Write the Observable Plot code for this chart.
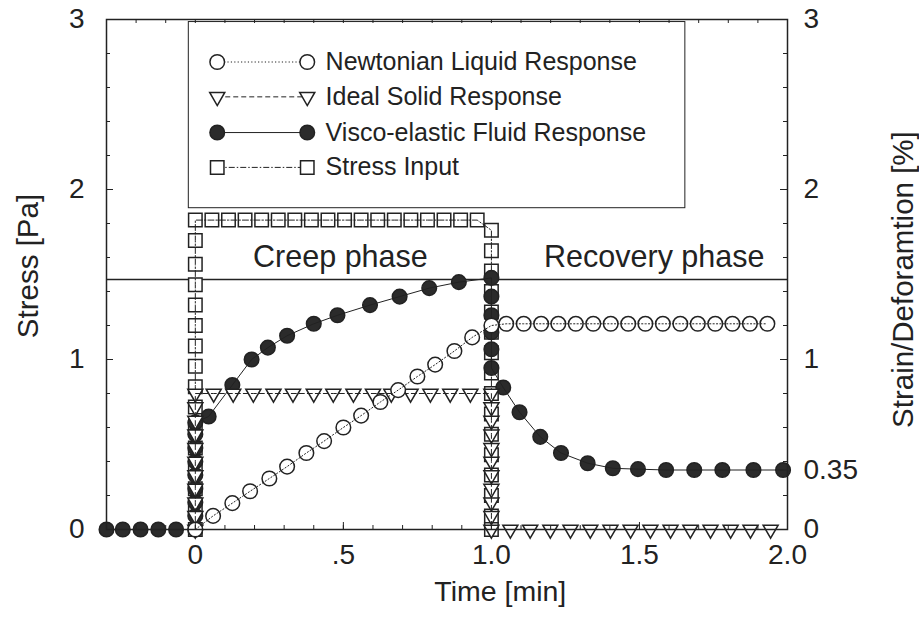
<!DOCTYPE html>
<html>
<head>
<meta charset="utf-8">
<script src="https://cdn.jsdelivr.net/npm/d3@7"></script>
<script src="https://cdn.jsdelivr.net/npm/@observablehq/plot@0.6"></script>
<style>
  html, body { margin: 0; padding: 0; background: #fff; }
  #chart { width: 919px; height: 621px; }
</style>
</head>
<body>
<div id="chart"></div>
<script>
// ---------------- DATA ----------------
// Stress input (open squares)
const stressX = [0,0,0,0,0,0,0,0,0,0,0,0,0,0,0,0,
  0.056,0.112,0.168,0.224,0.28,0.336,0.392,0.448,0.504,0.56,0.616,0.672,0.728,0.784,0.84,0.896,0.952,
  1,1,1,1,1,1,1,1,1,1,1,1,1,1,1,1];
const stressY = [0,0.12,0.24,0.36,0.48,0.6,0.72,0.84,0.96,1.08,1.2,1.32,1.44,1.56,1.7,1.82,
  1.82,1.82,1.82,1.82,1.82,1.82,1.82,1.82,1.82,1.82,1.82,1.82,1.82,1.82,1.82,1.82,1.82,
  1.76,1.64,1.52,1.4,1.28,1.16,1.04,0.92,0.8,0.68,0.56,0.44,0.32,0.2,0.08,0];

// Visco-elastic fluid response (filled circles)
const viscoX = [-0.3,-0.245,-0.185,-0.125,-0.065,0,0,0,0,0,0,0,0,0,
  0.045,0.125,0.19,0.245,0.31,0.4,0.48,0.59,0.69,0.79,0.89,1,
  1,1,1,1,1,
  1.04,1.095,1.165,1.235,1.325,1.41,1.495,1.59,1.685,1.78,1.885,1.985];
const viscoY = [0,0,0,0,0,0,0.08,0.16,0.24,0.32,0.4,0.48,0.56,0.63,
  0.665,0.85,1.0,1.07,1.14,1.21,1.26,1.32,1.37,1.42,1.455,1.48,
  1.37,1.26,1.16,1.06,0.95,
  0.835,0.69,0.545,0.45,0.39,0.36,0.355,0.35,0.35,0.35,0.35,0.35];

// Ideal solid response (open down-triangles)
const solidX = [0,0,0,0,0,0,0,0,0,0,0,
  0.062,0.128,0.196,0.264,0.33,0.4,0.466,0.534,0.6,0.662,0.727,0.794,0.861,0.929,
  1,1,1,1,1,1,1,1,1,1,1,
  1.064,1.131,1.199,1.267,1.334,1.402,1.47,1.537,1.605,1.672,1.74,1.808,1.875,1.943];
const solidY = [0,0.08,0.16,0.24,0.32,0.4,0.48,0.56,0.64,0.72,0.8,
  0.8,0.8,0.8,0.8,0.8,0.8,0.8,0.8,0.8,0.8,0.8,0.8,0.8,0.8,
  0.8,0.72,0.64,0.56,0.48,0.4,0.32,0.24,0.16,0.08,0,
  0,0,0,0,0,0,0,0,0,0,0,0,0,0];

// Newtonian liquid response (open circles)
const newtonX = [0,0.06,0.125,0.185,0.25,0.31,0.375,0.435,0.5,0.56,0.625,0.685,0.75,0.81,0.875,0.935,1,
  1.05,1.109,1.168,1.226,1.285,1.344,1.403,1.462,1.52,1.579,1.638,1.697,1.756,1.814,1.873,1.932];
const newtonY = [0,0.08,0.155,0.225,0.3,0.37,0.45,0.52,0.6,0.67,0.75,0.82,0.9,0.97,1.05,1.13,1.2,
  1.21,1.21,1.21,1.21,1.21,1.21,1.21,1.21,1.21,1.21,1.21,1.21,1.21,1.21,1.21,1.21];

const phaseLine = [1.47];
const phaseLabels = ["Creep phase", "Recovery phase"];
const phaseLabelX = [0.49, 1.55];
const phaseLabelY = [1.6, 1.6];

const legendLabels = ["Newtonian Liquid Response", "Ideal Solid Response", "Visco-elastic Fluid Response", "Stress Input"];

const xTicks = [0, 0.5, 1, 1.5, 2];
const xTickLabels = ["0", ".5", "1.0", "1.5", "2.0"];
const yLeftTicks = [0, 1, 2, 3];
const yLeftLabels = ["0", "1", "2", "3"];
const yRightTicks = [0, 0.35, 1, 2, 3];
const yRightLabels = ["0", "0.35", "1", "2", "3"];

// ---------------- STYLE / LAYOUT ----------------
const ink = "#222";
const font = '"Liberation Sans", Arial, Helvetica, sans-serif';
const W = 919, H = 621;
const M = {left: 106, right: 132, top: 19, bottom: 92};
const xDomain = [-0.3, 2.0], yDomain = [0, 3];
// pixel -> data-unit conversion for tick lengths
const pxX = (xDomain[1] - xDomain[0]) / (W - M.left - M.right);
const pxY = (yDomain[1] - yDomain[0]) / (H - M.top - M.bottom);

// downward-pointing triangle symbol
const triangleDown = {
  draw(context, size) {
    const y = -Math.sqrt(size / (Math.sqrt(3) * 3));
    context.moveTo(0, -2 * y);
    context.lineTo(-Math.sqrt(3) * y, y);
    context.lineTo(Math.sqrt(3) * y, y);
    context.closePath();
  }
};

const rows = (xs, ys) => xs.map((x, i) => ({x, y: ys[i]}));
const styles = {
  newton: {symbol: "circle", r: 7.3, fill: "white", dash: "1.2,2.2"},
  solid:  {symbol: triangleDown, r: 5.6, fill: "white", dash: "5,3"},
  visco:  {symbol: "circle", r: 7.3, fill: "#2b2b2b", dash: null},
  stress: {symbol: "square", r: 7.6, fill: "white", dash: "6,2,1.5,2"}
};
const seriesData = {
  stress: rows(stressX, stressY),
  visco: rows(viscoX, viscoY),
  solid: rows(solidX, solidY),
  newton: rows(newtonX, newtonY)
};

function seriesMarks(key) {
  const s = styles[key];
  return [
    Plot.dot(seriesData[key], {x: "x", y: "y", symbol: () => s.symbol, r: s.r, fill: s.fill,
      stroke: ink, strokeWidth: 1.5}),
    Plot.line(seriesData[key], {x: "x", y: "y", stroke: ink, strokeWidth: 1,
      strokeDasharray: s.dash})
  ];
}

// legend layout (in data units)
const lg = {x1: -0.022, x2: 1.655, y1: 1.89, y2: 2.985,
  rowY: [2.75, 2.545, 2.335, 2.13], m1: 0.074, m2: 0.378, tx: 0.44};
const legendKeys = ["newton", "solid", "visco", "stress"];

function legendMarks() {
  const out = [Plot.rect([0], {x1: () => lg.x1, x2: () => lg.x2, y1: () => lg.y1, y2: () => lg.y2,
    fill: "white", stroke: ink, strokeWidth: 1})];
  legendKeys.forEach((k, i) => {
    const s = styles[k];
    const y = lg.rowY[i];
    out.push(Plot.link([0], {x1: () => lg.m1, x2: () => lg.m2, y1: () => y, y2: () => y, stroke: ink,
      strokeWidth: 1, strokeDasharray: s.dash}));
    out.push(Plot.dot([lg.m1, lg.m2], {x: d => d, y: () => y, symbol: () => s.symbol, r: s.r,
      fill: s.fill, stroke: ink, strokeWidth: 1.5}));
    out.push(Plot.text([legendLabels[i]], {x: () => lg.tx, y: () => y, text: d => d,
      textAnchor: "start", fontSize: 25, fill: ink, fontFamily: font}));
  });
  return out;
}

const xMinor = d3.range(-3, 21).map(d => d / 10);
const yMinor = d3.range(0, 16).map(d => d / 5);
const lab = (ticks, labels) => (d, i) => labels[i];

function yTicks(values, side, len) {
  const x0 = side === "left" ? xDomain[0] : xDomain[1];
  const x1 = side === "left" ? x0 + len * pxX : x0 - len * pxX;
  return Plot.ruleY(values, {y: d => d, x1: () => x0, x2: () => x1, stroke: ink, strokeWidth: 1});
}
function xTicksMark(values, side, len) {
  const y0 = side === "bottom" ? yDomain[0] : yDomain[1];
  const y1 = side === "bottom" ? y0 + len * pxY : y0 - len * pxY;
  return Plot.ruleX(values, {x: d => d, y1: () => y0, y2: () => y1, stroke: ink, strokeWidth: 1});
}

const chart = Plot.plot({
  width: W, height: H,
  marginLeft: M.left, marginRight: M.right, marginTop: M.top, marginBottom: M.bottom,
  style: {fontFamily: font, background: "white", overflow: "visible"},
  x: {domain: xDomain, axis: null},
  y: {domain: yDomain, axis: null},
  marks: [
    Plot.ruleY(phaseLine, {stroke: ink, strokeWidth: 1.5}),
    ...seriesMarks("stress"),
    ...seriesMarks("visco"),
    ...seriesMarks("solid"),
    ...seriesMarks("newton"),
    Plot.text(phaseLabels, {x: (d, i) => phaseLabelX[i], y: (d, i) => phaseLabelY[i],
      text: d => d, fontSize: 30.5, fill: ink, fontFamily: font}),
    ...legendMarks(),
    Plot.frame({stroke: ink, strokeWidth: 1.5}),
    yTicks(yMinor, "left", 4),
    yTicks(yMinor, "right", 4),
    yTicks(yLeftTicks, "left", 7),
    yTicks(yRightTicks, "right", 7),
    xTicksMark(xMinor, "bottom", 4),
    xTicksMark(xMinor, "top", 4),
    xTicksMark(xTicks, "bottom", 7),
    Plot.text(yLeftTicks, {y: d => d, frameAnchor: "left", dx: -22, textAnchor: "end",
      text: lab(yLeftTicks, yLeftLabels), fontSize: 28, fill: ink, fontFamily: font}),
    Plot.text(yRightTicks, {y: d => d, frameAnchor: "right", dx: 16, textAnchor: "start",
      text: lab(yRightTicks, yRightLabels), fontSize: 28, fill: ink, fontFamily: font}),
    Plot.text(xTicks, {x: d => d, frameAnchor: "bottom", dy: 34,
      text: lab(xTicks, xTickLabels), fontSize: 28, fill: ink, fontFamily: font}),
    Plot.text(["Time [min]"], {x: () => 1.03, frameAnchor: "bottom", dy: 71, text: d => d,
      textAnchor: "middle", fontSize: 28.5, fill: ink, fontFamily: font}),
    Plot.text(["Stress [Pa]"], {y: () => 1.55, frameAnchor: "left", dx: -78, rotate: -90,
      textAnchor: "middle", text: d => d, fontSize: 29.5, fill: ink, fontFamily: font}),
    Plot.text(["Strain/Deforamtion [%]"], {y: () => 1.47, frameAnchor: "right", dx: 116, rotate: -90,
      textAnchor: "middle", text: d => d, fontSize: 29.5, fill: ink, fontFamily: font})
  ]
});
document.getElementById("chart").appendChild(chart);
</script>
</body>
</html>
